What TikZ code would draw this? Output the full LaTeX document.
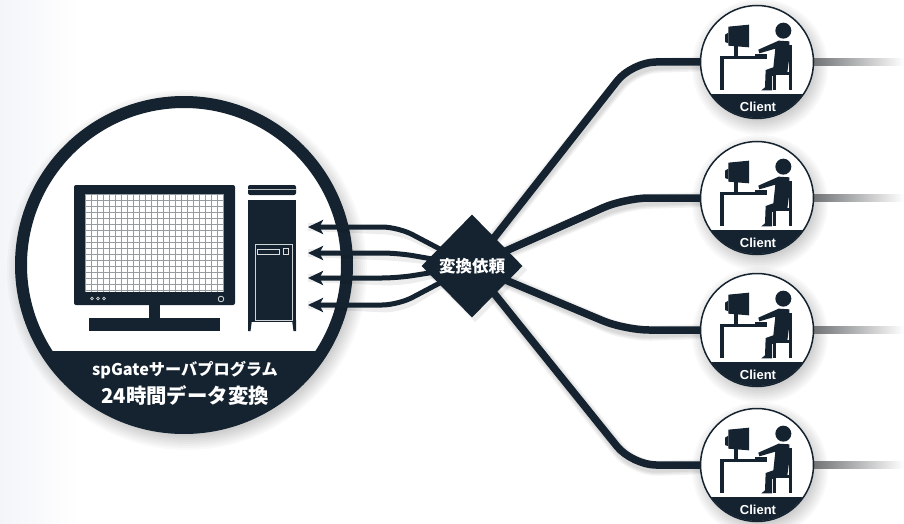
\documentclass[tikz,border=0pt]{standalone}
\usepackage{fontspec}
\newfontfamily\jp{Noto Sans CJK JP}
\setsansfont{Liberation Sans}
\usetikzlibrary{shapes.geometric,arrows.meta,calc}
\definecolor{ink}{HTML}{14232F}
\definecolor{haze}{HTML}{F3F5F8}
\tikzset{
  link/.style={draw=ink,line width=7.5pt,line cap=round,line join=round,rounded corners=24pt},
  linkshadow/.style={draw=black,line cap=round,line join=round,rounded corners=24pt,opacity=.05,shift={(2pt,-4pt)}},
  feed/.style={draw=ink,line width=5pt,rounded corners=16pt,-{Stealth[length=15pt,width=14pt,inset=3.5pt]}},
  feedshadow/.style={draw=black,line width=8pt,rounded corners=16pt,opacity=.07,shift={(2pt,-4pt)}},
  clientdisc/.style={circle,draw=ink,line width=1.5pt,fill=white,minimum size=113pt,inner sep=0pt},
  hubshape/.style={diamond,fill=ink,minimum width=101pt,minimum height=103pt,inner sep=0pt,text=white,
     font=\jp\bfseries\fontsize{16.5}{18}\selectfont},
  tail/.style={line width=7pt,left color=gray!85!ink,right color=white},
  whitetext/.style={text=white,inner sep=0pt},
  clientfig/.pic={
    \begin{scope}[x=.3333pt,y=-.3333pt,shift={(-57pt,58pt)}]
      \clip (171,174) circle (168);
      \fill[ink] (0,271) rectangle (342,360);
      % monitor
      \fill[ink] (85,68) -- (147,62) -- (147,130) -- (85,125) -- cycle;
      \fill[ink] (75,92) -- (85,86) -- (85,118) -- (75,114) -- cycle;
      \fill[ink] (101,125) rectangle (115,156);
      % table
      \fill[ink] (60,155) rectangle (200,165);
      \fill[ink] (60,160) rectangle (72,258);
      \fill[ink] (165,149) rectangle (200,156);
      % person
      \fill[ink] (250,80) circle (24);
      \fill[ink] (268,112) -- (236,110) -- (175,137) -- (178,148) -- (226,134) -- (220,190)
        -- (197,198) -- (195,250) -- (184,259) -- (216,259) -- (216,216)
        -- (262,206) -- (268,160) -- cycle;
      % chair
      \fill[ink] (266,124) rectangle (276,258);
      \fill[ink] (216,204) rectangle (270,213);
      \fill[ink] (219,212) rectangle (228,258);
    \end{scope}
    \node[whitetext,font=\sffamily\bfseries\fontsize{13}{14}\selectfont] at (1,44.5) {Client};
  }
}
\newcommand{\softdisc}[3]{%
  \foreach \k in {0,2,...,14}{\fill[black,opacity=.022] (#1+3,#2+5) circle (#3+\k-3);}}
\begin{document}
\begin{tikzpicture}[x=1pt,y=-1pt]
\useasboundingbox (0,0) rectangle (904,524);
\fill[white] (0,0) rectangle (904,524);
\shade[left color=haze,right color=white] (0,0) rectangle (80,524);

% named positions
\coordinate (s1) at (308,227);
\coordinate (s2) at (308,253);
\coordinate (s3) at (308,278);
\coordinate (s4) at (308,305);

% soft shadows
\softdisc{184}{265}{169}
\foreach \y in {62,198,330,465}{\softdisc{757}{\y}{57}}
\fill[black,opacity=.07] (475,218) -- (527,270) -- (475,322) -- (423,270) -- cycle;

% server disc
\node[circle,draw=ink,line width=12pt,fill=white,minimum size=326pt,inner sep=0pt] (server) at (184,265) {};
\begin{scope}
  \clip (184,265) circle (168);
  \fill[ink] (0,351) rectangle (360,440);
\end{scope}

% monitor
\fill[ink,rounded corners=2pt] (74,185) rectangle (235,305);
\fill[white] (85,194) rectangle (224,292);
\begin{scope}
  \clip (85,194) rectangle (224,292);
  \foreach \x in {0,...,23}{\draw[ink!45,line width=.7pt] (85+\x*6,194) -- (85+\x*6,292);}
  \foreach \y in {0,...,16}{\draw[ink!45,line width=.7pt] (85,194+\y*6) -- (224,194+\y*6);}
\end{scope}
\fill[ink] (149,305) rectangle (160,318);
\fill[ink] (89,318) rectangle (220,331);
\foreach \x in {92,98,104}{\draw[white!80!ink,line width=.7pt] (\x,298.5) circle (1.4);}
\draw[white!85!ink,line width=.8pt] (221,299) circle (2.8);

% tower
\fill[ink,rounded corners=2pt] (248,195) -- (248,185) -- (296,185) -- (296,195) -- cycle;
\draw[white!70!ink,line width=.6pt] (248,189.5) -- (296,189.5);
\fill[ink] (248,200) rectangle (296,322);
\fill[ink] (248,320) -- (252,320) -- (250.5,331) -- (248,331) -- cycle;
\fill[ink] (296,320) -- (292,320) -- (293.5,331) -- (296,331) -- cycle;
\draw[white!80!ink,line width=.6pt] (255,244) rectangle (292,320);
\draw[white!85!ink,line width=.6pt] (257,249) rectangle (279,254);
\draw[white!85!ink,line width=.6pt] (283,248) rectangle (288,254);

% caption
\node[whitetext,font=\jp\bfseries\fontsize{16.2}{18}\selectfont] (cap1) at (185,370) {spGateサーバプログラム};
\node[whitetext,font=\jp\bfseries\fontsize{20.4}{24}\selectfont] (cap2) at (185,396) {24時間データ変換};

% hub and clients (named first, painted over the links below)
\path node[hubshape,opacity=0] (hub) at (472,266) {};
\path node[clientdisc,opacity=0] (client1) at (757,62) {};
\path node[clientdisc,opacity=0] (client2) at (757,198) {};
\path node[clientdisc,opacity=0] (client3) at (757,330) {};
\path node[clientdisc,opacity=0] (client4) at (757,465) {};

% link shadows
\foreach \w in {15,12,9}{
  \draw[linkshadow,line width=\w pt] (hub.center) -- (632,62) -- (client1.center);
  \draw[linkshadow,line width=\w pt] (hub.center) -- (625,198) -- (client2.center);
  \draw[linkshadow,line width=\w pt] (hub.center) -- (625,330) -- (client3.center);
  \draw[linkshadow,line width=\w pt] (hub.center) -- (632,465) -- (client4.center);
}
\draw[feedshadow] (hub.center) -- (398,227) -- (s1);
\draw[feedshadow] (hub.center) -- (398,253) -- (s2);
\draw[feedshadow] (hub.center) -- (398,278) -- (s3);
\draw[feedshadow] (hub.center) -- (398,305) -- (s4);

% links
\draw[link] (hub.center) -- (632,62) -- (client1.center);
\draw[link] (hub.center) -- (625,198) -- (client2.center);
\draw[link] (hub.center) -- (625,330) -- (client3.center);
\draw[link] (hub.center) -- (632,465) -- (client4.center);

% feeds to server
\draw[feed] (hub.center) -- (398,227) -- (s1);
\draw[feed] (hub.center) -- (398,253) -- (s2);
\draw[feed] (hub.center) -- (398,278) -- (s3);
\draw[feed] (hub.center) -- (398,305) -- (s4);

% tails
\foreach \i/\y in {1/62,2/198,3/330,4/465}{
  \path[tail] (813,\y-3.5) rectangle (904,\y+3.5);
}

% hub
\node[hubshape] at (hub.center) {変換依頼};

% clients
\foreach \i in {1,2,3,4}{
  \node[clientdisc] at (client\i.center) {};
  \pic at (client\i.center) {clientfig};
}
\end{tikzpicture}
\end{document}
